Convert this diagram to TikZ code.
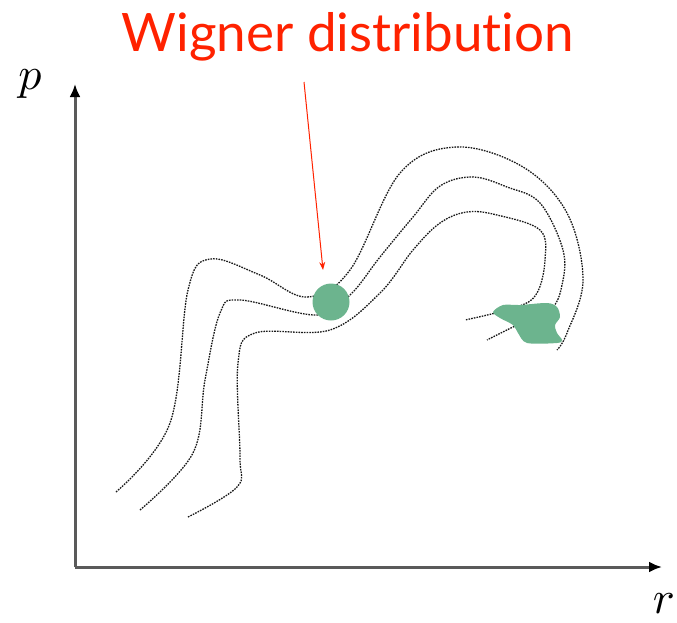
\documentclass[tikz,border=0pt]{standalone}
\usepackage{fontspec}
\setmainfont{Lato}[RawFeature=-liga]
\usetikzlibrary{arrows.meta}
\definecolor{wigred}{RGB}{255,34,0}
\definecolor{wiggreen}{RGB}{108,180,142}
\definecolor{axisgray}{RGB}{90,90,90}
\tikzset{
  axisline/.style={draw=axisgray, line width=3pt, arrows={-Latex[length=13pt,width=11pt,color=black]}},
  orbit/.style={black!90, line width=1.3pt, dash pattern=on 1.6pt off 1.1pt},
}
\begin{document}
\begin{tikzpicture}[x=1pt,y=-1pt]
    \useasboundingbox (0,0) rectangle (677,622);
    \coordinate (O) at (75,567);
    \coordinate (ptop) at (75,84);
    \coordinate (rend) at (662,567);
    \draw[axisline] (O) -- (ptop);
    \draw[axisline] (O) -- (rend);
    \node[scale=4.6] (plab) at (30,84) {$p$};
    \node[scale=4.6] (rlab) at (664,604) {$r$};
    \draw[orbit] plot[smooth, tension=0.6] coordinates {(116,492) (170,423) (188,290) (210,259) (260,275) (307,297) (350,270) (400,173) (457,147) (523,167) (567,213) (583,280) (567,333) (557,350)};
    \draw[orbit] plot[smooth, tension=0.6] coordinates {(140,510) (193,453) (205,380) (220,313) (240,300) (317,315) (350,295) (380,257) (413,217) (440,186) (473,177) (507,187) (540,203) (563,250) (562,285) (550,310) (513,327) (487,340)};
    \draw[orbit] plot[smooth, tension=0.6] coordinates {(188,517) (237,487) (240,457) (238,363) (255,333) (330,330) (380,293) (413,250) (440,223) (467,212) (497,215) (540,230) (545,260) (537,293) (517,307) (465,320)};
    \node[circle, fill=wiggreen, inner sep=0pt, minimum size=37pt] (wig) at (331,302) {};
    \fill[wiggreen] plot[smooth cycle, tension=0.5] coordinates {(493,312) (503,305) (520,305) (547,303) (557,307) (560,317) (555,325) (557,333) (562,340) (557,343) (527,343) (518,333) (513,325) (500,318)};
    \node[text=wigred, font=\fontsize{53}{53}\selectfont] (title) at (348,37) {Wigner distribution};
    \coordinate (tail) at (304,82);
    \coordinate (tip) at (323,270);
    \draw[wigred, line width=1pt, -{Stealth[length=8pt,width=6pt]}] (tail) -- (tip);
\end{tikzpicture}
\end{document}
